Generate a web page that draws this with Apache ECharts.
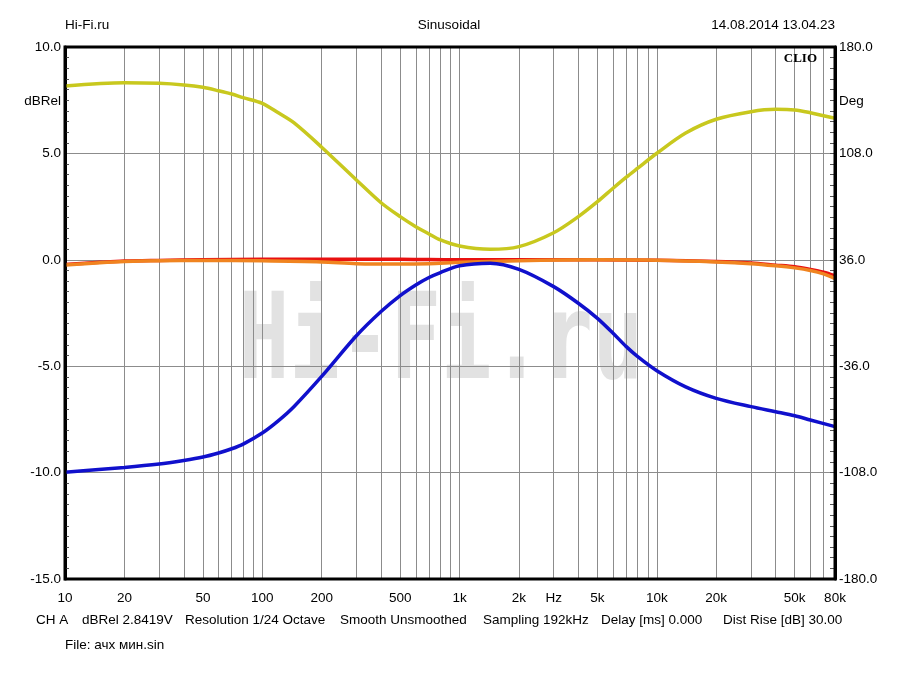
<!DOCTYPE html>
<html>
<head>
<meta charset="utf-8">
<script src="https://cdn.jsdelivr.net/npm/echarts@6/dist/echarts.min.js"></script>
<style>html,body{margin:0;padding:0;background:#fff}#c{width:900px;height:675px}</style>
</head>
<body>
<div id="c"></div>
<script>
// ---- data ----
var freqs = [10,20,30,40,50,60,70,80,100,120,145,200,300,400,500,600,700,800,1000,1430,2000,3000,4000,5000,6000,7000,8000,10000,14000,20000,30000,40000,50000,60000,80000];
var phaseDeg = [153.6,155.8,155.4,154.3,152.7,150.4,148.2,145.7,141.9,135.6,128.6,112.2,90.0,74.6,65.2,58.4,53.5,49.4,45.3,43.1,44.9,54.3,65.2,75.3,84.4,91.9,98.0,108.1,121.8,131.1,136.2,137.8,137.4,135.5,131.8];
var blueDb = [-9.98,-9.76,-9.6,-9.43,-9.27,-9.08,-8.88,-8.66,-8.14,-7.58,-6.89,-5.48,-3.57,-2.43,-1.68,-1.18,-0.83,-0.60,-0.28,-0.16,-0.45,-1.26,-2.04,-2.75,-3.45,-4.08,-4.55,-5.21,-5.97,-6.51,-6.90,-7.14,-7.33,-7.53,-7.84];
var flatFreqs = [10,15,20,30,50,100,200,300,500,700,1000,2000,5000,10000,20000,30000,40000,50000,60000,70000,80000];
var redDb = [-0.22,-0.12,-0.06,-0.03,0,0.02,0.03,0.03,0.02,0.01,0.0,0.0,0.0,-0.02,-0.08,-0.15,-0.25,-0.33,-0.45,-0.58,-0.75];
var orangeDb = [-0.25,-0.14,-0.08,-0.04,-0.03,-0.05,-0.1,-0.18,-0.2,-0.18,-0.12,-0.04,0.0,-0.02,-0.1,-0.18,-0.28,-0.38,-0.5,-0.66,-0.88];
var xLabelValues = [10,20,50,100,200,500,1000,2000,3000,5000,10000,20000,50000,80000];
var xLabelTexts = ['10','20','50','100','200','500','1k','2k','Hz','5k','10k','20k','50k','80k'];
var xGridValues = [20,30,40,50,60,70,80,90,100,200,300,400,500,600,700,800,900,1000,2000,3000,4000,5000,6000,7000,8000,9000,10000,20000,30000,40000,50000,60000,70000];
var rightTicks = [-180,-108,-36,36,108,180];

function pairs(xs, ys){ return xs.map(function(x,i){ return [x, ys[i]]; }); }
var rightMinor = [];
for (var k = 0; k <= 50; k++) rightMinor.push(Math.round((-180 + k*7.2)*10)/10);

var FONT = 'Liberation Sans';
var FS = '13.5px ';
var chart = echarts.init(document.getElementById('c'), null, {renderer:'canvas'});
chart.setOption({
  animation: false,
  backgroundColor: '#fff',
  grid: {left: 65, right: 65, top: 47, bottom: 96, show: true, borderColor: '#000', borderWidth: 3, backgroundColor: 'transparent', z: 5},
  xAxis: {
    type: 'log', logBase: 10, min: 10, max: 80000,
    axisLine: {show: false},
    axisTick: {show: false, customValues: xGridValues},
    splitLine: {show: true, lineStyle: {color: '#8c8c8c', width: 1}},
    axisLabel: {
      customValues: xLabelValues,
      margin: 12,
      color: '#000', fontFamily: FONT, fontSize: 13.5,
      formatter: function(v){ var i = -1; for (var j=0;j<xLabelValues.length;j++){ if (Math.abs(xLabelValues[j]-v)/v < 1e-6) { i=j; break; } } return i >= 0 ? xLabelTexts[i] : ''; }
    }
  },
  yAxis: [{
    type: 'value', min: -15, max: 10, interval: 5, position: 'left',
    axisLine: {show: true, lineStyle: {color: '#000', width: 3}},
    axisTick: {show: false, inside: true},
    minorTick: {show: true, splitNumber: 10, length: 4, lineStyle: {color: '#555'}},
    splitLine: {show: true, lineStyle: {color: '#8c8c8c', width: 1}},
    axisLabel: {color: '#000', fontFamily: FONT, fontSize: 13.5, margin: 4, formatter: function(v){ return v.toFixed(1); }}
  }, {
    type: 'value', min: -180, max: 180, position: 'right',
    axisLine: {show: true, lineStyle: {color: '#000', width: 3}},
    axisTick: {show: true, inside: true, length: 5, customValues: rightMinor, lineStyle: {color: '#555'}},
    splitLine: {show: false},
    axisLabel: {customValues: rightTicks, color: '#000', fontFamily: FONT, fontSize: 13.5, margin: 4, formatter: function(v){ return v.toFixed(1); }}
  }],
  graphic: [
    {type: 'text', x: 65, y: 18, style: {text: 'Hi-Fi.ru', font: FS + FONT, fill: '#000'}},
    {type: 'text', x: 449, y: 18, style: {text: 'Sinusoidal', font: FS + FONT, fill: '#000', textAlign: 'center'}},
    {type: 'text', x: 835, y: 18, style: {text: '14.08.2014 13.04.23', font: FS + FONT, fill: '#000', textAlign: 'right'}},
    {type: 'text', x: 61, y: 94, style: {text: 'dBRel', font: FS + FONT, fill: '#000', textAlign: 'right'}},
    {type: 'text', x: 839, y: 94, style: {text: 'Deg', font: FS + FONT, fill: '#000'}},
    {type: 'text', x: 817, y: 52, z: 20, style: {text: 'CLIO', font: 'bold 13px "Liberation Serif"', fill: '#000', textAlign: 'right'}},
    {type: 'text', x: 441, y: 347, z: 0, scaleX: 0.84, scaleY: 1.2, style: {text: 'Hi-Fi.ru', font: 'bold 100px "DejaVu Sans Mono"', fill: 'rgba(190,190,190,0.45)', textAlign: 'center', textVerticalAlign: 'middle'}},
    {type: 'text', x: 36, y: 613, style: {text: 'CH A', font: FS + FONT, fill: '#000'}},
    {type: 'text', x: 82, y: 613, style: {text: 'dBRel 2.8419V', font: FS + FONT, fill: '#000'}},
    {type: 'text', x: 185, y: 613, style: {text: 'Resolution 1/24 Octave', font: FS + FONT, fill: '#000'}},
    {type: 'text', x: 340, y: 613, style: {text: 'Smooth Unsmoothed', font: FS + FONT, fill: '#000'}},
    {type: 'text', x: 483, y: 613, style: {text: 'Sampling 192kHz', font: FS + FONT, fill: '#000'}},
    {type: 'text', x: 601, y: 613, style: {text: 'Delay [ms] 0.000', font: FS + FONT, fill: '#000'}},
    {type: 'text', x: 723, y: 613, style: {text: 'Dist Rise [dB] 30.00', font: FS + FONT, fill: '#000'}},
    {type: 'text', x: 65, y: 638, style: {text: 'File: ачх мин.sin', font: FS + FONT, fill: '#000'}}
  ],
  series: [
    {name: 'Phase', type: 'line', yAxisIndex: 1, data: pairs(freqs, phaseDeg), smooth: 0.3, showSymbol: false, z: 3, lineStyle: {color: '#c8c81e', width: 3.5}},
    {name: 'Red', type: 'line', yAxisIndex: 0, data: pairs(flatFreqs, redDb), smooth: 0.3, showSymbol: false, z: 3, lineStyle: {color: '#e81010', width: 3.5}},
    {name: 'Orange', type: 'line', yAxisIndex: 0, data: pairs(flatFreqs, orangeDb), smooth: 0.3, showSymbol: false, z: 4, lineStyle: {color: '#f08420', width: 3.5}},
    {name: 'Blue', type: 'line', yAxisIndex: 0, data: pairs(freqs, blueDb), smooth: 0.3, showSymbol: false, z: 4, lineStyle: {color: '#1010cc', width: 3.5}}
  ]
});
</script>
</body>
</html>
